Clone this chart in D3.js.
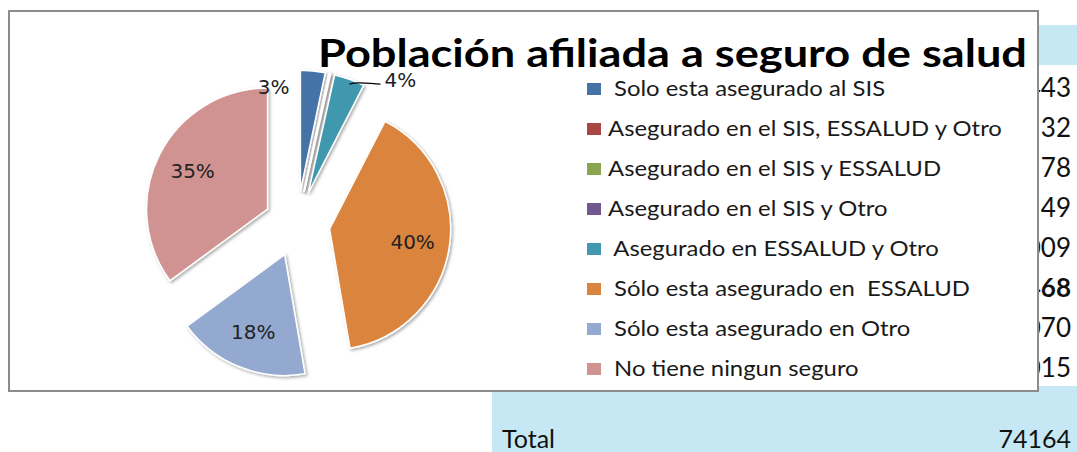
<!DOCTYPE html>
<html>
<head>
<meta charset="utf-8">
<script src="https://cdn.jsdelivr.net/npm/d3@7"></script>
<style>
  body { margin: 0; background: #fff; }
  svg text { white-space: pre; }
</style>
</head>
<body>
<svg id="chart"></svg>
<script>
let width = 1077,
    height = 452,
    svg = d3.select("#chart")
        .attr("width", width)
        .attr("height", height)

// data (total row = 74164)
const categories = [
    " Solo esta asegurado al SIS",
    "Asegurado en el SIS, ESSALUD y Otro",
    "Asegurado en el SIS y ESSALUD",
    "Asegurado en el SIS y Otro",
    " Asegurado en ESSALUD y Otro",
    " Sólo esta asegurado en  ESSALUD",
    " Sólo esta asegurado en Otro",
    " No tiene ningun seguro"
];
const counts = [2443, 32, 78, 49, 3009, 29468, 13070, 26015];
const totalLabel = "Total";
const total = 74164;
const boldRows = [5];
const colors = ["#4572A7", "#AA4643", "#89A54E", "#71588F", "#4198AF", "#DB843D", "#93A9CF", "#D19392"];
const title = "Población afiliada a seguro de salud";

let tableBlue = "#c6e8f4";

//////////////////////////////////////////////////////////// TABLE (behind the chart)
let rowY = d3.scalePoint().domain(d3.range(categories.length)).range([89, 369]);

svg.append("rect").attr("x", 492).attr("y", 25).attr("width", width - 492).attr("height", 40).attr("fill", tableBlue)
svg.append("rect").attr("x", 492).attr("y", 386).attr("width", width - 492).attr("height", height - 386).attr("fill", tableBlue)

svg.append("g").selectAll("text")
    .data(counts)
    .enter().append("text")
    .attr("x", 1071)
    .attr("y", (d, i) => rowY(i) + 8)
    .attr("text-anchor", "end")
    .attr("font-family", "Lato")
    .attr("font-size", 26)
    .attr("font-weight", (d, i) => boldRows.includes(i) ? "bold" : "normal")
    .attr("fill", "#111")
    .text(d => d)

svg.append("text").attr("x", 502).attr("y", 448)
    .attr("font-family", "Lato").attr("font-size", 25).attr("fill", "#111")
    .text(totalLabel)
svg.append("text").attr("x", 1071).attr("y", 448).attr("text-anchor", "end")
    .attr("font-family", "Lato").attr("font-size", 25).attr("fill", "#111")
    .text(total)

//////////////////////////////////////////////////////////// CHART BOX
svg.append("rect")
    .attr("x", 9).attr("y", 11)
    .attr("width", 1029).attr("height", 380)
    .attr("fill", "#fff")
    .attr("stroke", "#8c8c8c")
    .attr("stroke-width", 2)

svg.append("text")
    .attr("x", 318).attr("y", 67)
    .attr("font-family", "Lato").attr("font-weight", "bold").attr("font-size", 39)
    .attr("textLength", 709).attr("lengthAdjust", "spacingAndGlyphs")
    .attr("fill", "#000")
    .text(title)

//////////////////////////////////////////////////////////// PIE
let defs = svg.append("defs");
let shadow = defs.append("filter").attr("id", "shadow").attr("x", "-20%").attr("y", "-20%").attr("width", "140%").attr("height", "140%");
shadow.append("feDropShadow").attr("dx", 1.5).attr("dy", 1.5).attr("stdDeviation", 1.5)
    .attr("flood-color", "#000").attr("flood-opacity", 0.35);

let cx = 297, cy = 224, radius = 121, explode = 33;

let pie = d3.pie().sort(null).value(d => d)(counts);
let arc = d3.arc().innerRadius(0).outerRadius(radius);
let labelArc = d3.arc().innerRadius(84).outerRadius(84);

function shift(d) {
    let a = (d.startAngle + d.endAngle) / 2;
    return [Math.sin(a) * explode, -Math.cos(a) * explode];
}
function polar(d, ang, r) {
    let s = shift(d);
    return [cx + s[0] + Math.sin(ang) * r, cy + s[1] - Math.cos(ang) * r];
}

let pieG = svg.append("g").attr("transform", "translate(" + cx + "," + cy + ")");

let slices = pieG.selectAll("g.slice")
    .data(pie)
    .enter().append("g")
    .attr("class", "slice")
    .attr("transform", d => "translate(" + shift(d) + ")")

slices.append("path")
    .attr("d", arc)
    .attr("fill", (d, i) => colors[i])
    .attr("stroke", "#fff")
    .attr("stroke-width", 1.5)
    .attr("filter", "url(#shadow)")

let pct = d3.format(".0%");
let labelFont = "DejaVu Sans";
let labelSize = 20;

// inside labels for the big slices
slices.filter(d => d.value / total >= 0.1)
    .append("text")
    .attr("transform", d => "translate(" + labelArc.centroid(d) + ")")
    .attr("dy", "0.35em")
    .attr("text-anchor", "middle")
    .attr("font-family", labelFont)
    .attr("font-size", labelSize)
    .attr("fill", "#222")
    .text(d => pct(d.value / total))

// outside labels for the small ones
let first = pie[0];
let p0 = polar(first, first.startAngle, radius);
svg.append("text")
    .attr("x", p0[0] - 11).attr("y", p0[1] + 24)
    .attr("text-anchor", "end")
    .attr("font-family", labelFont).attr("font-size", labelSize).attr("fill", "#222")
    .text(pct(first.value / total))

let teal = pie[4];
let tMid = (teal.startAngle + teal.endAngle) / 2;
let p1 = polar(teal, tMid, radius);
svg.append("path")
    .attr("d", d3.line().curve(d3.curveBasis)([[p1[0], p1[1] + 5], [p1[0] + 6, p1[1] + 3], [p1[0] + 31, p1[1] + 5]]))
    .attr("stroke", "#000").attr("stroke-width", 1.3).attr("fill", "none")
svg.append("text")
    .attr("x", p1[0] + 35).attr("y", p1[1] + 8)
    .attr("font-family", labelFont).attr("font-size", labelSize).attr("fill", "#222")
    .text(pct(teal.value / total))

//////////////////////////////////////////////////////////// LEGEND
let legend = svg.append("g").attr("class", "legend")

legend.selectAll("rect")
    .data(categories)
    .enter().append("rect")
    .attr("x", 587)
    .attr("y", (d, i) => rowY(i) - 6)
    .attr("width", 14)
    .attr("height", 12)
    .attr("fill", (d, i) => colors[i])

let legendText = legend.append("g")
legendText.selectAll("text")
    .data(categories)
    .enter().append("text")
    .attr("x", 0)
    .attr("y", (d, i) => rowY(i) + 7)
    .attr("font-family", "Lato")
    .attr("font-size", 22)
    .attr("fill", "#1a1a1a")
    .text(d => d)

// stretch legend text to the width of the longest entry (~394px)
let longest = d3.max(legendText.selectAll("text").nodes(), n => n.getComputedTextLength());
let sx = 394 / longest;
legendText.attr("transform", "translate(608,0) scale(" + sx + ",1)")
</script>
</body>
</html>
